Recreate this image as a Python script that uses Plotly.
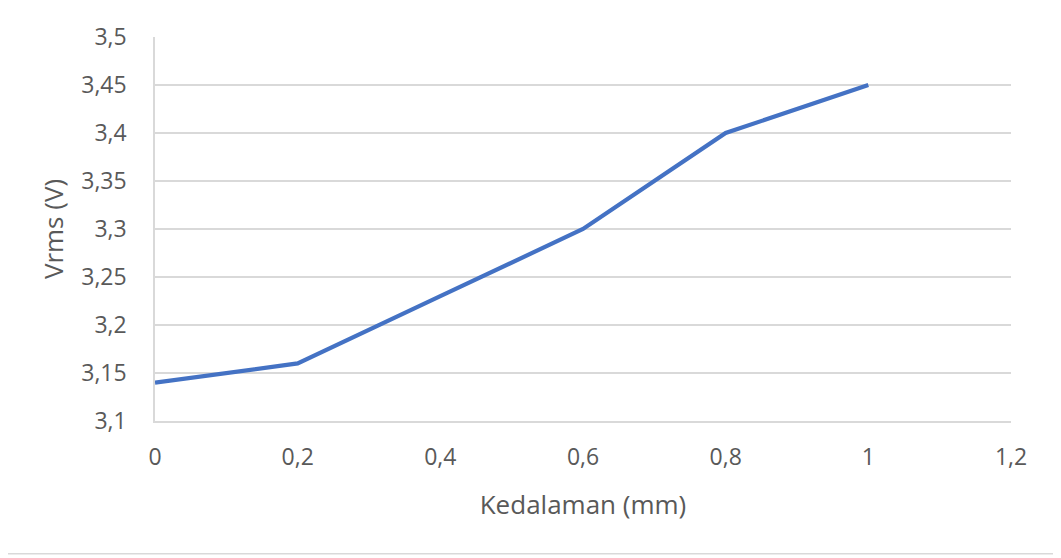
import plotly.graph_objects as go

# Kedalaman (mm) vs Vrms (V)
kedalaman = [0, 0.2, 0.4, 0.6, 0.8, 1.0]
vrms = [3.14, 3.16, 3.23, 3.30, 3.40, 3.45]

x_ticks = [0, 0.2, 0.4, 0.6, 0.8, 1.0, 1.2]
y_ticks = [3.1, 3.15, 3.2, 3.25, 3.3, 3.35, 3.4, 3.45, 3.5]

grid_color = "#d9d9d9"
text_color = "#595959"
font_family = "Open Sans, Liberation Sans, sans-serif"

fig = go.Figure()

fig.add_trace(
    go.Scatter(
        x=kedalaman,
        y=vrms,
        mode="lines",
        line=dict(color="#4472c4", width=4.2),
        showlegend=False
    )
)

# the page body has an 8px margin, so the figure is shrunk to fit the window
fig.update_layout(
    width=1053,
    height=550,
    margin=dict(l=147, r=50, t=26, b=137),
    paper_bgcolor="white",
    plot_bgcolor="white",
    separators=",.",
    font=dict(family=font_family, color=text_color, size=23),
)

fig.update_xaxes(
    range=[0, 1.2],
    tickvals=x_ticks,
    showgrid=False,
    zeroline=False,
    showline=True,
    linecolor=grid_color,
    linewidth=1.5,
    ticks="outside",
    ticklen=15,
    tickcolor="rgba(0,0,0,0)",
    tickfont=dict(size=23, color=text_color),
    title=dict(text="Kedalaman (mm)", font=dict(size=26, color=text_color), standoff=24),
)

fig.update_yaxes(
    range=[3.1, 3.5],
    tickvals=y_ticks,
    showgrid=True,
    gridcolor=grid_color,
    gridwidth=1.5,
    zeroline=False,
    showline=True,
    linecolor=grid_color,
    linewidth=1.5,
    ticks="outside",
    ticklen=22,
    tickcolor="rgba(0,0,0,0)",
    tickfont=dict(size=23, color=text_color),
    title=dict(text="Vrms (V)", font=dict(size=26, color=text_color), standoff=10),
)

# thin frame around the chart area, like the Excel chart border
fig.add_shape(
    type="rect",
    xref="paper", yref="paper",
    x0=-0.181, x1=1.0525, y0=-0.346, y1=1.087,
    line=dict(color=grid_color, width=1.5),
    layer="below"
)

fig.write_html("out.html")
